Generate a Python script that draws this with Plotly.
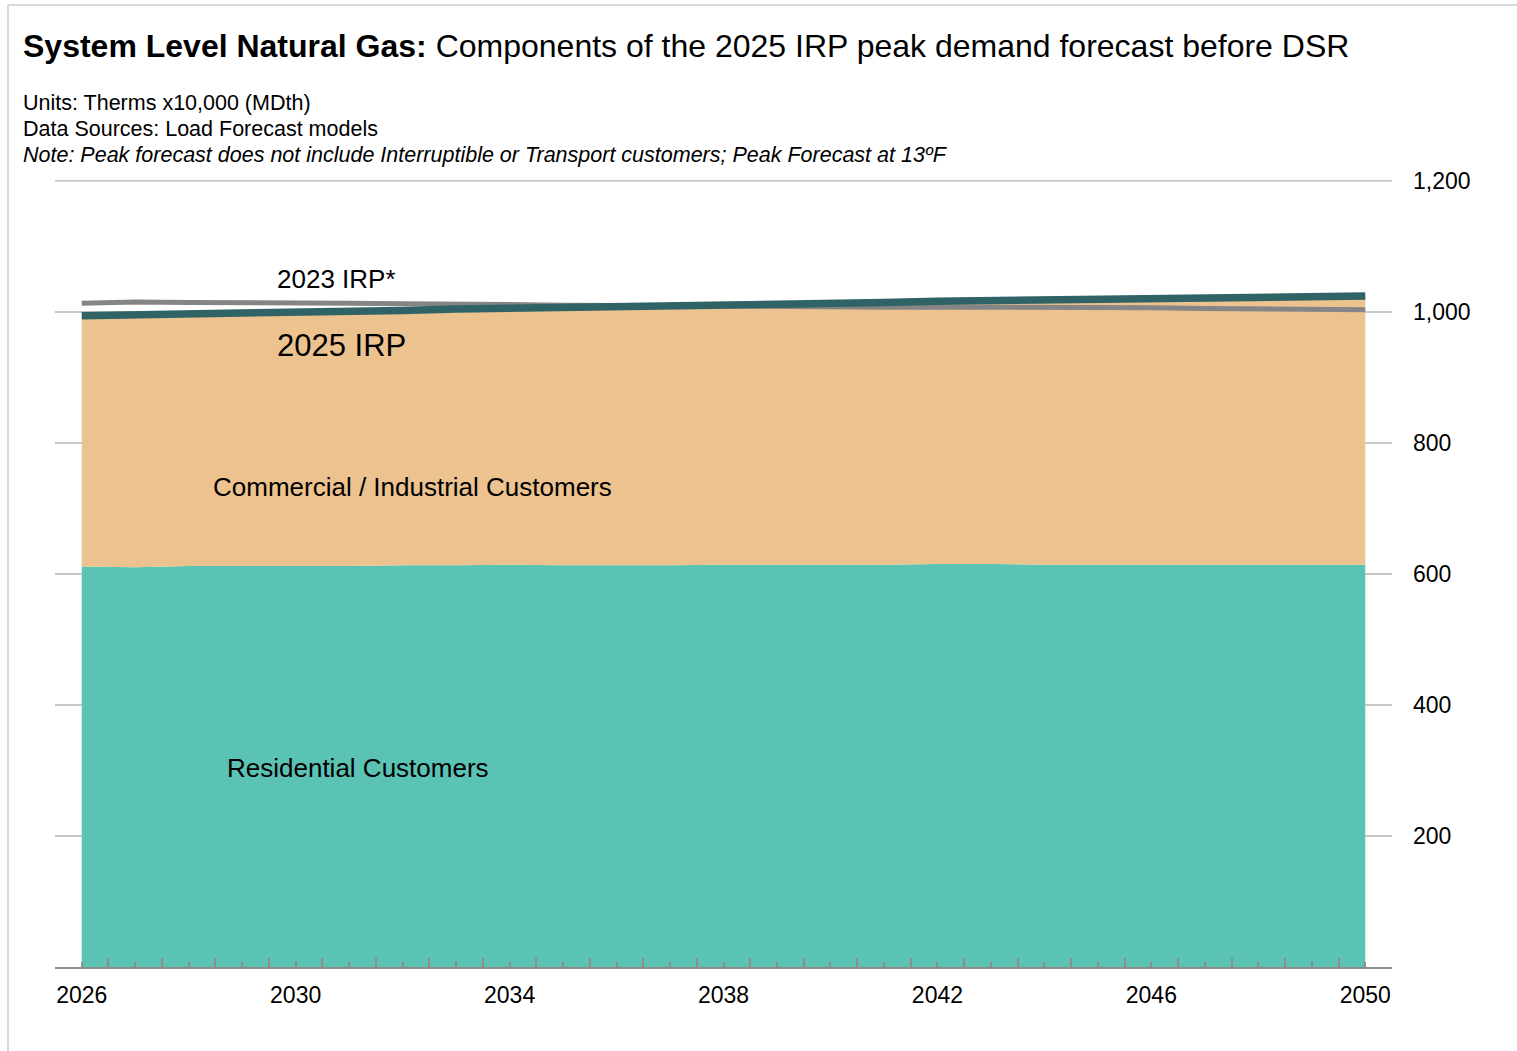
import plotly.graph_objects as go

# Forecast years
years = list(range(2026, 2051))

# Peak demand components, MDth
residential = [611, 610, 612, 612, 612, 612, 613, 613, 614, 613, 613, 613, 614,
               614, 614, 614, 615, 615, 614, 614, 614, 614, 614, 614, 614]
commercial = [383, 385, 384, 386, 388, 389, 389, 391, 391, 393, 395, 397, 397,
              398, 398, 400, 401, 402, 403, 405, 406, 407, 407, 409, 410]

# Total peak forecast lines
irp_2025 = [994, 995, 996, 998, 1000, 1001, 1002, 1004, 1005, 1006, 1008, 1010, 1011,
            1012, 1012, 1014, 1016, 1017, 1017, 1019, 1020, 1021, 1021, 1023, 1024]
irp_2023 = [1013, 1015, 1014, 1014, 1014, 1013, 1012, 1012, 1011, 1010, 1009, 1009, 1009,
            1008, 1008, 1007, 1007, 1007, 1006, 1006, 1006, 1005, 1004, 1004, 1003]

y_ticks = [200, 400, 600, 800, 1000, 1200]
x_label_years = [2026, 2030, 2034, 2038, 2042, 2046, 2050]

RES_COLOR = "#5AC3B4"
COM_COLOR = "#ECC28F"
IRP25_COLOR = "#2F6365"
IRP23_COLOR = "#858585"
GRID_COLOR = "#C8C8C8"
FONT = "Liberation Sans, Arial, sans-serif"

fig = go.Figure()
fig.add_trace(go.Scatter(x=years, y=residential, stackgroup="demand", mode="none",
                         fillcolor=RES_COLOR, name="Residential Customers"))
fig.add_trace(go.Scatter(x=years, y=commercial, stackgroup="demand", mode="none",
                         fillcolor=COM_COLOR, name="Commercial / Industrial Customers"))
fig.add_trace(go.Scatter(x=years, y=irp_2023, mode="lines",
                         line=dict(color=IRP23_COLOR, width=5), name="2023 IRP*"))
fig.add_trace(go.Scatter(x=years, y=irp_2025, mode="lines",
                         line=dict(color=IRP25_COLOR, width=7.5), name="2025 IRP"))

W, H = 1517, 1051
L, R, T, B = 55, 125, 180, 84
pw, ph = W - L - R, H - T - B


def px(xp):
    return (xp - L) / pw


def py(yp):
    return (H - B - yp) / ph


annotations = [
    dict(x=px(21), y=py(46), xref="paper", yref="paper", xanchor="left", yanchor="middle",
         showarrow=False, font=dict(size=32, color="black", family=FONT),
         text="<b>System Level Natural Gas:</b> Components of the 2025 IRP peak demand forecast before DSR"),
    dict(x=px(21), y=py(103), xref="paper", yref="paper", xanchor="left", yanchor="middle",
         showarrow=False, font=dict(size=21.5, color="black", family=FONT),
         text="Units: Therms x10,000 (MDth)"),
    dict(x=px(21), y=py(129), xref="paper", yref="paper", xanchor="left", yanchor="middle",
         showarrow=False, font=dict(size=21.5, color="black", family=FONT),
         text="Data Sources: Load Forecast models"),
    dict(x=px(21), y=py(155), xref="paper", yref="paper", xanchor="left", yanchor="middle",
         showarrow=False, font=dict(size=21.5, color="black", family=FONT),
         text="<i>Note: Peak forecast does not include Interruptible or Transport customers; Peak Forecast at 13ºF</i>"),
    dict(x=2030.77, y=1050, xref="x", yref="y", showarrow=False,
         font=dict(size=26, color="black", family=FONT), text="2023 IRP*"),
    dict(x=2030.86, y=948, xref="x", yref="y", showarrow=False,
         font=dict(size=31, color="black", family=FONT), text="2025 IRP"),
    dict(x=2032.18, y=732, xref="x", yref="y", showarrow=False,
         font=dict(size=26, color="black", family=FONT), text="Commercial / Industrial Customers"),
    dict(x=2031.16, y=303, xref="x", yref="y", showarrow=False,
         font=dict(size=26, color="black", family=FONT), text="Residential Customers"),
]

shapes = [
    # Light frame along the top and left edges
    dict(type="line", xref="paper", yref="paper", x0=px(8), x1=px(W), y0=py(5), y1=py(5),
         line=dict(color="#D9D9D9", width=2)),
    dict(type="line", xref="paper", yref="paper", x0=px(8), x1=px(8), y0=py(5), y1=py(H),
         line=dict(color="#D9D9D9", width=2)),
    # Top gridline at the edge of the plotting area
    dict(type="line", xref="paper", yref="y", x0=0, x1=1, y0=y_ticks[-1], y1=y_ticks[-1],
         layer="below", line=dict(color=GRID_COLOR, width=2)),
]

fig.update_layout(
    width=W, height=H,
    margin=dict(l=L, r=R, t=T, b=B, pad=0),
    paper_bgcolor="white", plot_bgcolor="white",
    showlegend=False,
    font=dict(family=FONT, color="black"),
    annotations=annotations,
    shapes=shapes,
    xaxis=dict(
        range=[2025.5, 2050.5],
        tickvals=years,
        ticktext=[str(y) if y in x_label_years else "" for y in years],
        ticks="inside", ticklen=5, tickwidth=1.5, tickcolor="#8C8C8C",
        showline=True, linecolor="#8C8C8C", linewidth=2,
        showgrid=False, zeroline=False,
        tickfont=dict(size=23, color="black", family=FONT),
        ticklabelstandoff=6,
        minor=dict(tickvals=[y - 0.5 for y in years] + [2050.5], ticks="inside",
                   ticklen=9, tickwidth=1.5, tickcolor="#8C8C8C", showgrid=False),
    ),
    yaxis=dict(
        range=[0, 1201],
        side="right",
        tickvals=y_ticks,
        tickformat=",",
        ticks="",
        showgrid=True, gridcolor=GRID_COLOR, gridwidth=2,
        zeroline=False, showline=False,
        tickfont=dict(size=23, color="black", family=FONT),
        ticklabelstandoff=20,
    ),
)

fig.write_html("out.html")
